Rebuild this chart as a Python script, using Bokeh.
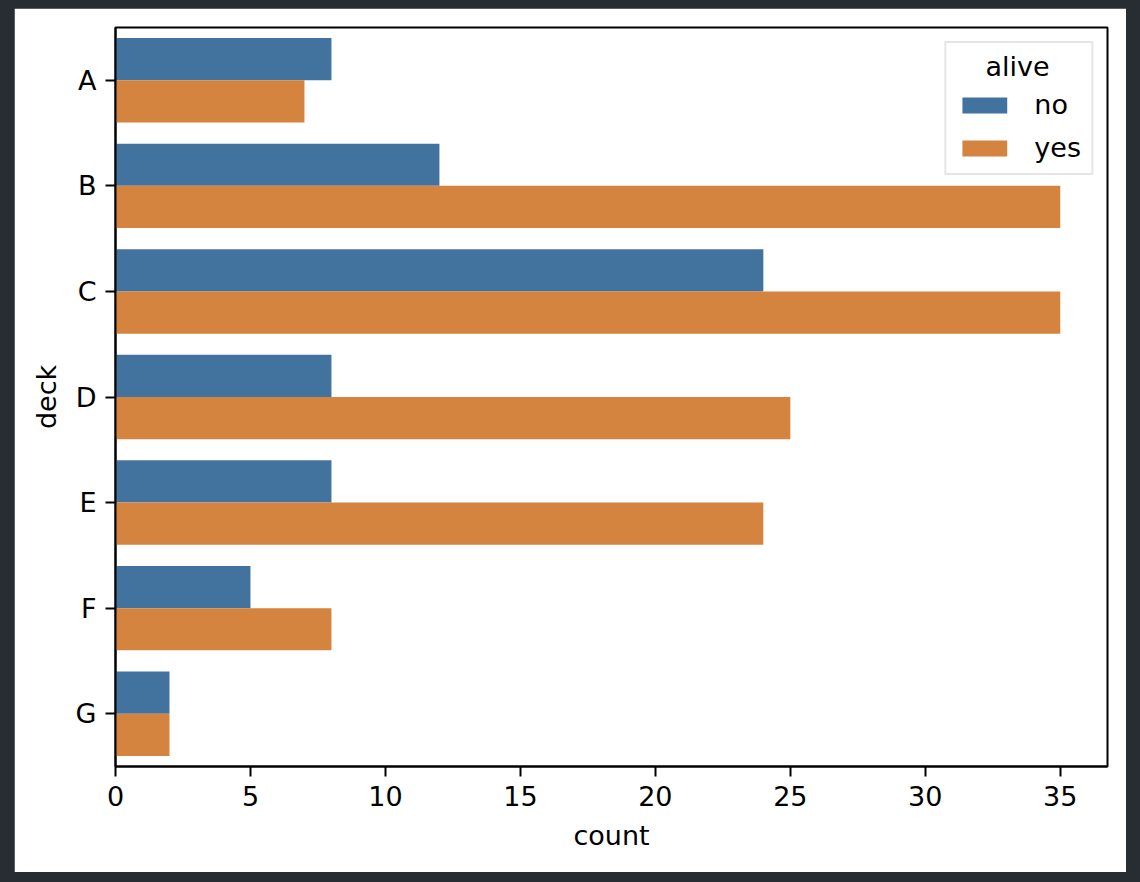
from bokeh.plotting import figure
from bokeh.models import FactorRange, Range1d, FixedTicker, Legend, LegendItem, ColumnDataSource, Label
from bokeh.transform import dodge
from bokeh.embed import file_html
from bokeh.resources import INLINE

decks = ["A", "B", "C", "D", "E", "F", "G"]
no_counts = [8, 12, 24, 8, 8, 5, 2]
yes_counts = [7, 35, 35, 25, 24, 8, 2]
x_ticks = [0, 5, 10, 15, 20, 25, 30, 35]
hue_labels = ["no", "yes"]
legend_title = "alive"

BLUE = "#42739f"
ORANGE = "#d4843f"
FONT = "DejaVu Sans"
FS = "27px"

src = ColumnDataSource(dict(deck=decks, no=no_counts, yes=yes_counts))

p = figure(width=1112, height=864,
           y_range=FactorRange(factors=decks[::-1]),
           x_range=Range1d(0, 36.75),
           output_backend="svg", toolbar_location=None,
           min_border_left=101, min_border_right=19,
           min_border_top=19, min_border_bottom=106)

r1 = p.hbar(y=dodge("deck", 0.2, range=p.y_range), left=0, right="no", height=0.4,
            source=src, fill_color=BLUE, line_color=None)
r2 = p.hbar(y=dodge("deck", -0.2, range=p.y_range), left=0, right="yes", height=0.4,
            source=src, fill_color=ORANGE, line_color=None)

p.xgrid.visible = False
p.ygrid.visible = False
p.outline_line_color = "black"
p.outline_line_width = 2
p.background_fill_color = "white"
p.border_fill_color = "white"

p.xaxis.ticker = FixedTicker(ticks=x_ticks)
p.xaxis.axis_label = "count"
p.yaxis.axis_label = "deck"

for ax in (p.xaxis[0], p.yaxis[0]):
    ax.axis_line_width = 2
    ax.axis_line_color = "black"
    ax.major_tick_out = 10
    ax.major_tick_in = 0
    ax.major_tick_line_width = 2
    ax.major_tick_line_color = "black"
    ax.minor_tick_line_color = None
    ax.major_label_text_font = FONT
    ax.major_label_text_font_size = FS
    ax.major_label_text_color = "black"
    ax.axis_label_text_font = FONT
    ax.axis_label_text_font_size = FS
    ax.axis_label_text_font_style = "normal"
    ax.axis_label_text_color = "black"
    ax.major_label_standoff = 9
    ax.axis_label_standoff = 11

legend = Legend(items=[LegendItem(label=hue_labels[0], renderers=[r1]),
                       LegendItem(label=hue_labels[1], renderers=[r2])],
                title="\u00a0", location="top_right", margin=14)
legend.title_text_font = FONT
legend.title_text_font_size = FS
legend.title_text_font_style = "normal"
legend.title_text_color = "black"
legend.label_text_font = FONT
legend.label_text_font_size = FS
legend.label_text_color = "black"
legend.glyph_width = 56
legend.glyph_height = 20
legend.border_line_color = "#cccccc"
legend.border_line_width = 2
legend.background_fill_color = None
legend.padding = 10
legend.spacing = 12
legend.label_standoff = 22
p.add_layout(legend)

title_label = Label(x=902, y=700, x_units="screen", y_units="screen", text=legend_title,
                    text_align="center", text_baseline="middle",
                    text_font=FONT, text_font_size=FS, text_color="black")
p.add_layout(title_label)

html = file_html(p, INLINE)
html = html.replace("<body>", '<body style="margin:8px 0 0 14px;background:#272d33;">')
open("out.html", "w").write(html)
